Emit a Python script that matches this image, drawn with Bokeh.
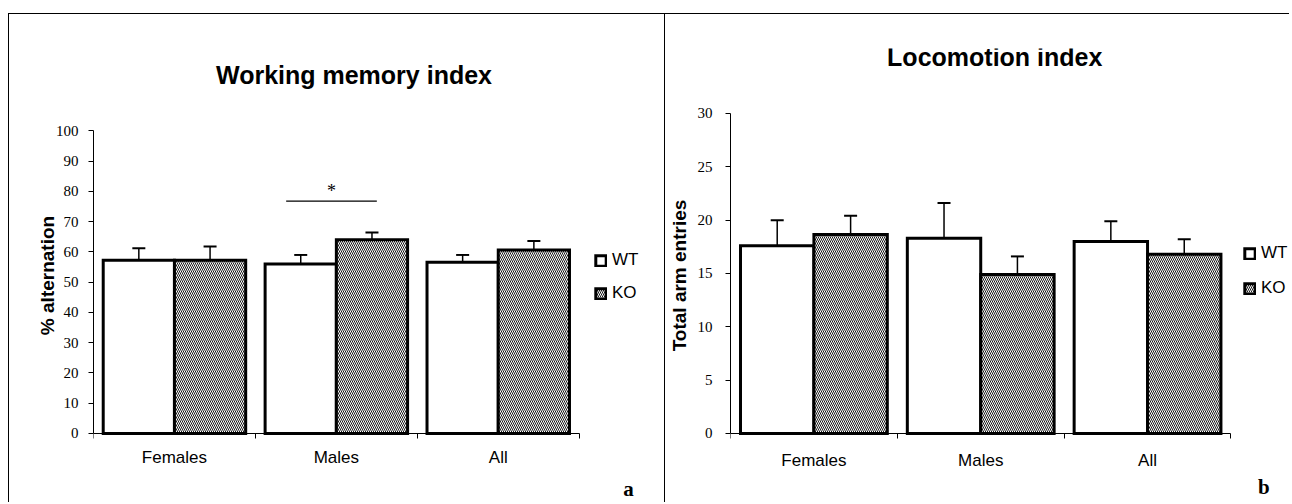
from bokeh.plotting import figure
from bokeh.models import (FixedTicker, Legend, LegendItem, Label, Range1d, ColumnDataSource)
from bokeh.layouts import row
from bokeh.embed import file_html
from bokeh.resources import INLINE

# ---------------- data ----------------
groups = ["Females", "Males", "All"]
series = ["WT", "KO"]

wm_wt = [57.2, 56.0, 56.6]
wm_wt_err = [4.0, 3.0, 2.4]
wm_ko = [57.2, 64.0, 60.6]
wm_ko_err = [4.6, 2.4, 3.0]
wm_yticks = [0, 10, 20, 30, 40, 50, 60, 70, 80, 90, 100]
wm_title = "Working memory index"
wm_ylabel = "% alternation"

loc_wt = [17.6, 18.3, 18.0]
loc_wt_err = [2.4, 3.3, 1.9]
loc_ko = [18.65, 14.9, 16.8]
loc_ko_err = [1.75, 1.7, 1.4]
loc_yticks = [0, 5, 10, 15, 20, 25, 30]
loc_title = "Locomotion index"
loc_ylabel = "Total arm entries"

# significance marker (Males WT vs KO, working memory)
sig_x = [1.19, 1.75]
sig_y = 76.8
sig_star_y = 80.0
sig_text = "*"

SANS = "Liberation Sans"
SERIF = "Liberation Serif"


def make_panel(title, title_xy, ylabel, yticks, ymax, yview, xview, wt, wt_err, ko, ko_err,
               width, height, bl, bt, xlab_standoff, ytick_standoff, ylab_standoff,
               leg_loc, leg_spacing, letter, letter_xy):
    # the frame reaches the right and bottom edges of the canvas so that the legend, the
    # title and the panel letter (drawn inside it) are not clipped; axes are bounded to the data.
    p = figure(width=width, height=height, output_backend="svg", toolbar_location=None,
               x_range=Range1d(0, xview[1]), y_range=Range1d(yview[0], yview[1]),
               min_border_left=bl, min_border_right=0, min_border_top=bt, min_border_bottom=0)
    p.outline_line_color = None
    p.xgrid.visible = False
    p.ygrid.visible = False
    p.background_fill_color = "white"
    p.border_fill_color = "white"
    p.title.text = ""

    half = 0.22
    bw = 0.44
    renderers = []
    for vals, errs, sign, hatch in ((wt, wt_err, -1, None), (ko, ko_err, 1, "left_diagonal_line")):
        xs = [i + 0.5 + sign * half for i in range(len(groups))]
        hi = [v + e for v, e in zip(vals, errs)]
        src = ColumnDataSource(dict(x=xs, top=vals, hi=hi))
        kw = dict(fill_color="white", line_color="black", line_width=3, line_join="miter")
        if hatch:
            kw.update(hatch_pattern=hatch, hatch_color="black", hatch_scale=4, hatch_weight=0.9)
        r = p.vbar(x="x", top="top", bottom=0, width=bw, source=src, **kw)
        renderers.append(r)
        p.segment(x0="x", y0="top", x1="x", y1="hi", source=src, line_color="black", line_width=1.5)
        p.scatter(x="x", y="hi", source=src, marker="dash", size=13, line_color="black", line_width=2)

    # x axis at y = 0: labels at group centres, ticks at group boundaries
    xa = p.xaxis[0]
    xa.fixed_location = 0
    xa.bounds = (0, len(groups))
    xa.ticker = FixedTicker(ticks=[i + 0.5 for i in range(len(groups))],
                            minor_ticks=list(range(len(groups) + 1)))
    xa.major_label_overrides = {i + 0.5: g for i, g in enumerate(groups)}
    xa.major_tick_out = 0
    xa.major_tick_in = 0
    xa.minor_tick_out = 5
    xa.minor_tick_in = 0
    xa.minor_tick_line_color = "black"
    xa.axis_line_color = "black"
    xa.major_label_text_font = SANS
    xa.major_label_text_font_size = "17px"
    xa.major_label_text_color = "black"
    xa.major_label_standoff = xlab_standoff

    ya = p.yaxis[0]
    ya.ticker = FixedTicker(ticks=yticks, minor_ticks=[])
    ya.bounds = (0, ymax)
    ya.major_tick_out = 5
    ya.major_tick_in = 0
    ya.major_tick_line_color = "black"
    ya.axis_line_color = "black"
    ya.major_label_text_font = SERIF
    ya.major_label_text_font_size = "15px"
    ya.major_label_text_color = "black"
    ya.major_label_standoff = ytick_standoff
    ya.axis_label = ylabel
    ya.axis_label_text_font = SANS
    ya.axis_label_text_font_style = "bold"
    ya.axis_label_text_font_size = "19px"
    ya.axis_label_text_color = "black"
    ya.axis_label_standoff = ylab_standoff

    p.add_layout(Label(x=title_xy[0], y=title_xy[1], text=title, text_font=SANS,
                       text_font_style="bold", text_font_size="25px", text_color="black",
                       text_align="center", text_baseline="middle"))

    leg = Legend(items=[LegendItem(label=s, renderers=[r]) for s, r in zip(series, renderers)],
                 location=leg_loc, orientation="vertical", glyph_width=13, glyph_height=13,
                 label_standoff=5, spacing=leg_spacing, padding=0, margin=0,
                 border_line_color=None, background_fill_alpha=0,
                 label_text_font=SANS, label_text_font_size="17px", label_text_color="black",
                 label_height=20)
    p.add_layout(leg)

    p.add_layout(Label(x=letter_xy[0], y=letter_xy[1], text=letter, text_font=SERIF,
                       text_font_style="bold", text_font_size="21px", text_color="black",
                       text_align="center", text_baseline="middle"))
    return p


pa = make_panel(wm_title, (1.609, 118.3), wm_ylabel, wm_yticks, 100, (-22.8, 127.2), (0, 3.533),
                wm_wt, wm_wt_err, wm_ko, wm_ko_err,
                width=656, height=488, bl=84, bt=34,
                xlab_standoff=10, ytick_standoff=10, ylab_standoff=-5,
                leg_loc=(501, 199), leg_spacing=13, letter="a", letter_xy=(3.305, -18.2))
pa.line(sig_x, [sig_y, sig_y], line_color="black", line_width=1.2)
pa.add_layout(Label(x=sum(sig_x) / 2, y=sig_star_y, text=sig_text, text_font=SERIF,
                    text_font_size="18px", text_color="black",
                    text_align="center", text_baseline="middle"))

pb = make_panel(loc_title, (1.584, 35.25), loc_ylabel, loc_yticks, 30, (-6.47, 36.09), (0, 3.351),
                loc_wt, loc_wt_err, loc_ko, loc_ko_err,
                width=624, height=488, bl=60, bt=34,
                xlab_standoff=13, ytick_standoff=13, ylab_standoff=5,
                leg_loc=(513, 204), leg_spacing=15, letter="b", letter_xy=(3.197, -5.06))

pa.styles = {"border-right": "1px solid black"}
root = row(pa, pb)
root.margin = (13, 0, 0, 8)
root.styles = {"border-top": "1px solid black", "border-left": "1px solid black"}

open("out.html", "w").write(file_html(root, INLINE))
